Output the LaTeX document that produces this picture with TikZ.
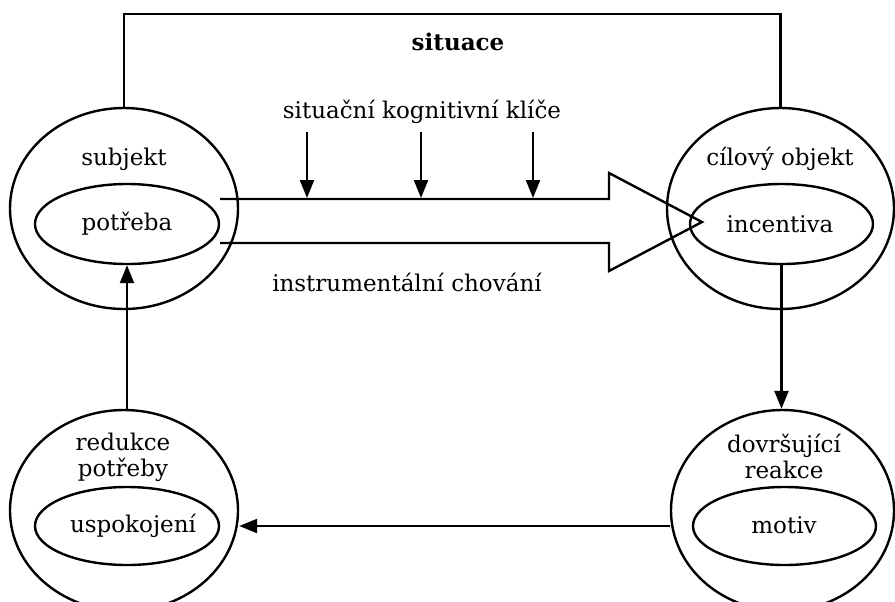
\documentclass[tikz,border=0pt]{standalone}
\usepackage{fontspec}
\setmainfont{DejaVu Serif}
\usetikzlibrary{shapes.geometric,arrows.meta}
\begin{document}
\begin{tikzpicture}[x=0.5pt,y=-0.5pt,
  line width=1.2pt,
  ell/.style={draw,ellipse,inner sep=0pt,line width=1.2pt},
  lbl/.style={inner sep=0pt,font=\fontsize{11.5}{13}\selectfont,align=center},
  arr/.style={-{Triangle[length=9pt,width=7pt]}}]
\useasboundingbox (0,0) rectangle (895,601);
% outer ellipses
\node[ell,minimum width=228pt*0.5,minimum height=201pt*0.5] (subj) at (124,208.5) {};
\node[ell,minimum width=227pt*0.5,minimum height=201pt*0.5] (cil) at (780.5,208.5) {};
\node[ell,minimum width=228pt*0.5,minimum height=201pt*0.5] (red) at (124,510.5) {};
\node[ell,minimum width=223pt*0.5,minimum height=201pt*0.5] (dov) at (782.5,510.5) {};
% inner ellipses
\node[ell,minimum width=184pt*0.5,minimum height=80pt*0.5] (pot) at (127,224) {};
\node[ell,minimum width=183pt*0.5,minimum height=80pt*0.5] (inc) at (781.5,224) {};
\node[ell,minimum width=184pt*0.5,minimum height=78pt*0.5] (usp) at (127,526) {};
\node[ell,minimum width=183pt*0.5,minimum height=78pt*0.5] (mot) at (784.5,526) {};
% labels
\node[lbl] (tsubj) at (124,159) {subjekt};
\node[lbl] (tpot) at (127,224) {potřeba};
\node[lbl] (tcil) at (780,159) {cílový objekt};
\node[lbl] (tinc) at (780,224) {incentiva};
\node[lbl] (tred) at (123,457) {redukce\\potřeby};
\node[lbl] (tdov) at (784,456) {dovršující\\reakce};
\node[lbl] (tusp) at (133,526) {uspokojení};
\node[lbl] (tmot) at (784,525) {motiv};
\node[lbl,font=\fontsize{11.5}{13}\selectfont\bfseries] (tsit) at (458,42) {situace};
\node[lbl] (tklic) at (422,112) {situační kognitivní klíče};
\node[lbl] (tins) at (407,282) {instrumentální chování};
% situation frame
\coordinate (tl) at (124,14);
\coordinate (tr) at (780.5,14);
\draw (subj.north) -- (tl) -- (tr) -- (cil.north);
% big hollow arrow
\coordinate (a1) at (220,199);
\coordinate (a2) at (609,199);
\coordinate (a3) at (609,173);
\coordinate (a4) at (702,222);
\coordinate (a5) at (609,271);
\coordinate (a6) at (609,243);
\coordinate (a7) at (220,243);
\draw[line join=miter] (a1) -- (a2) -- (a3) -- (a4) -- (a5) -- (a6) -- (a7);
% cue arrows
\foreach \i/\x in {1/307,2/421,3/533}{
  \coordinate (k\i) at (\x,132);
  \coordinate (h\i) at (\x,198);
  \draw[arr] (k\i) -- (h\i);
}
% cycle arrows
\draw[arr] (inc.south) -- (inc.south |- dov.north);
\draw[arr] (dov.west |- mot.center) -- (red.east |- usp.center);
\draw[arr] (pot.south |- red.north) -- (pot.south);
\end{tikzpicture}
\end{document}
